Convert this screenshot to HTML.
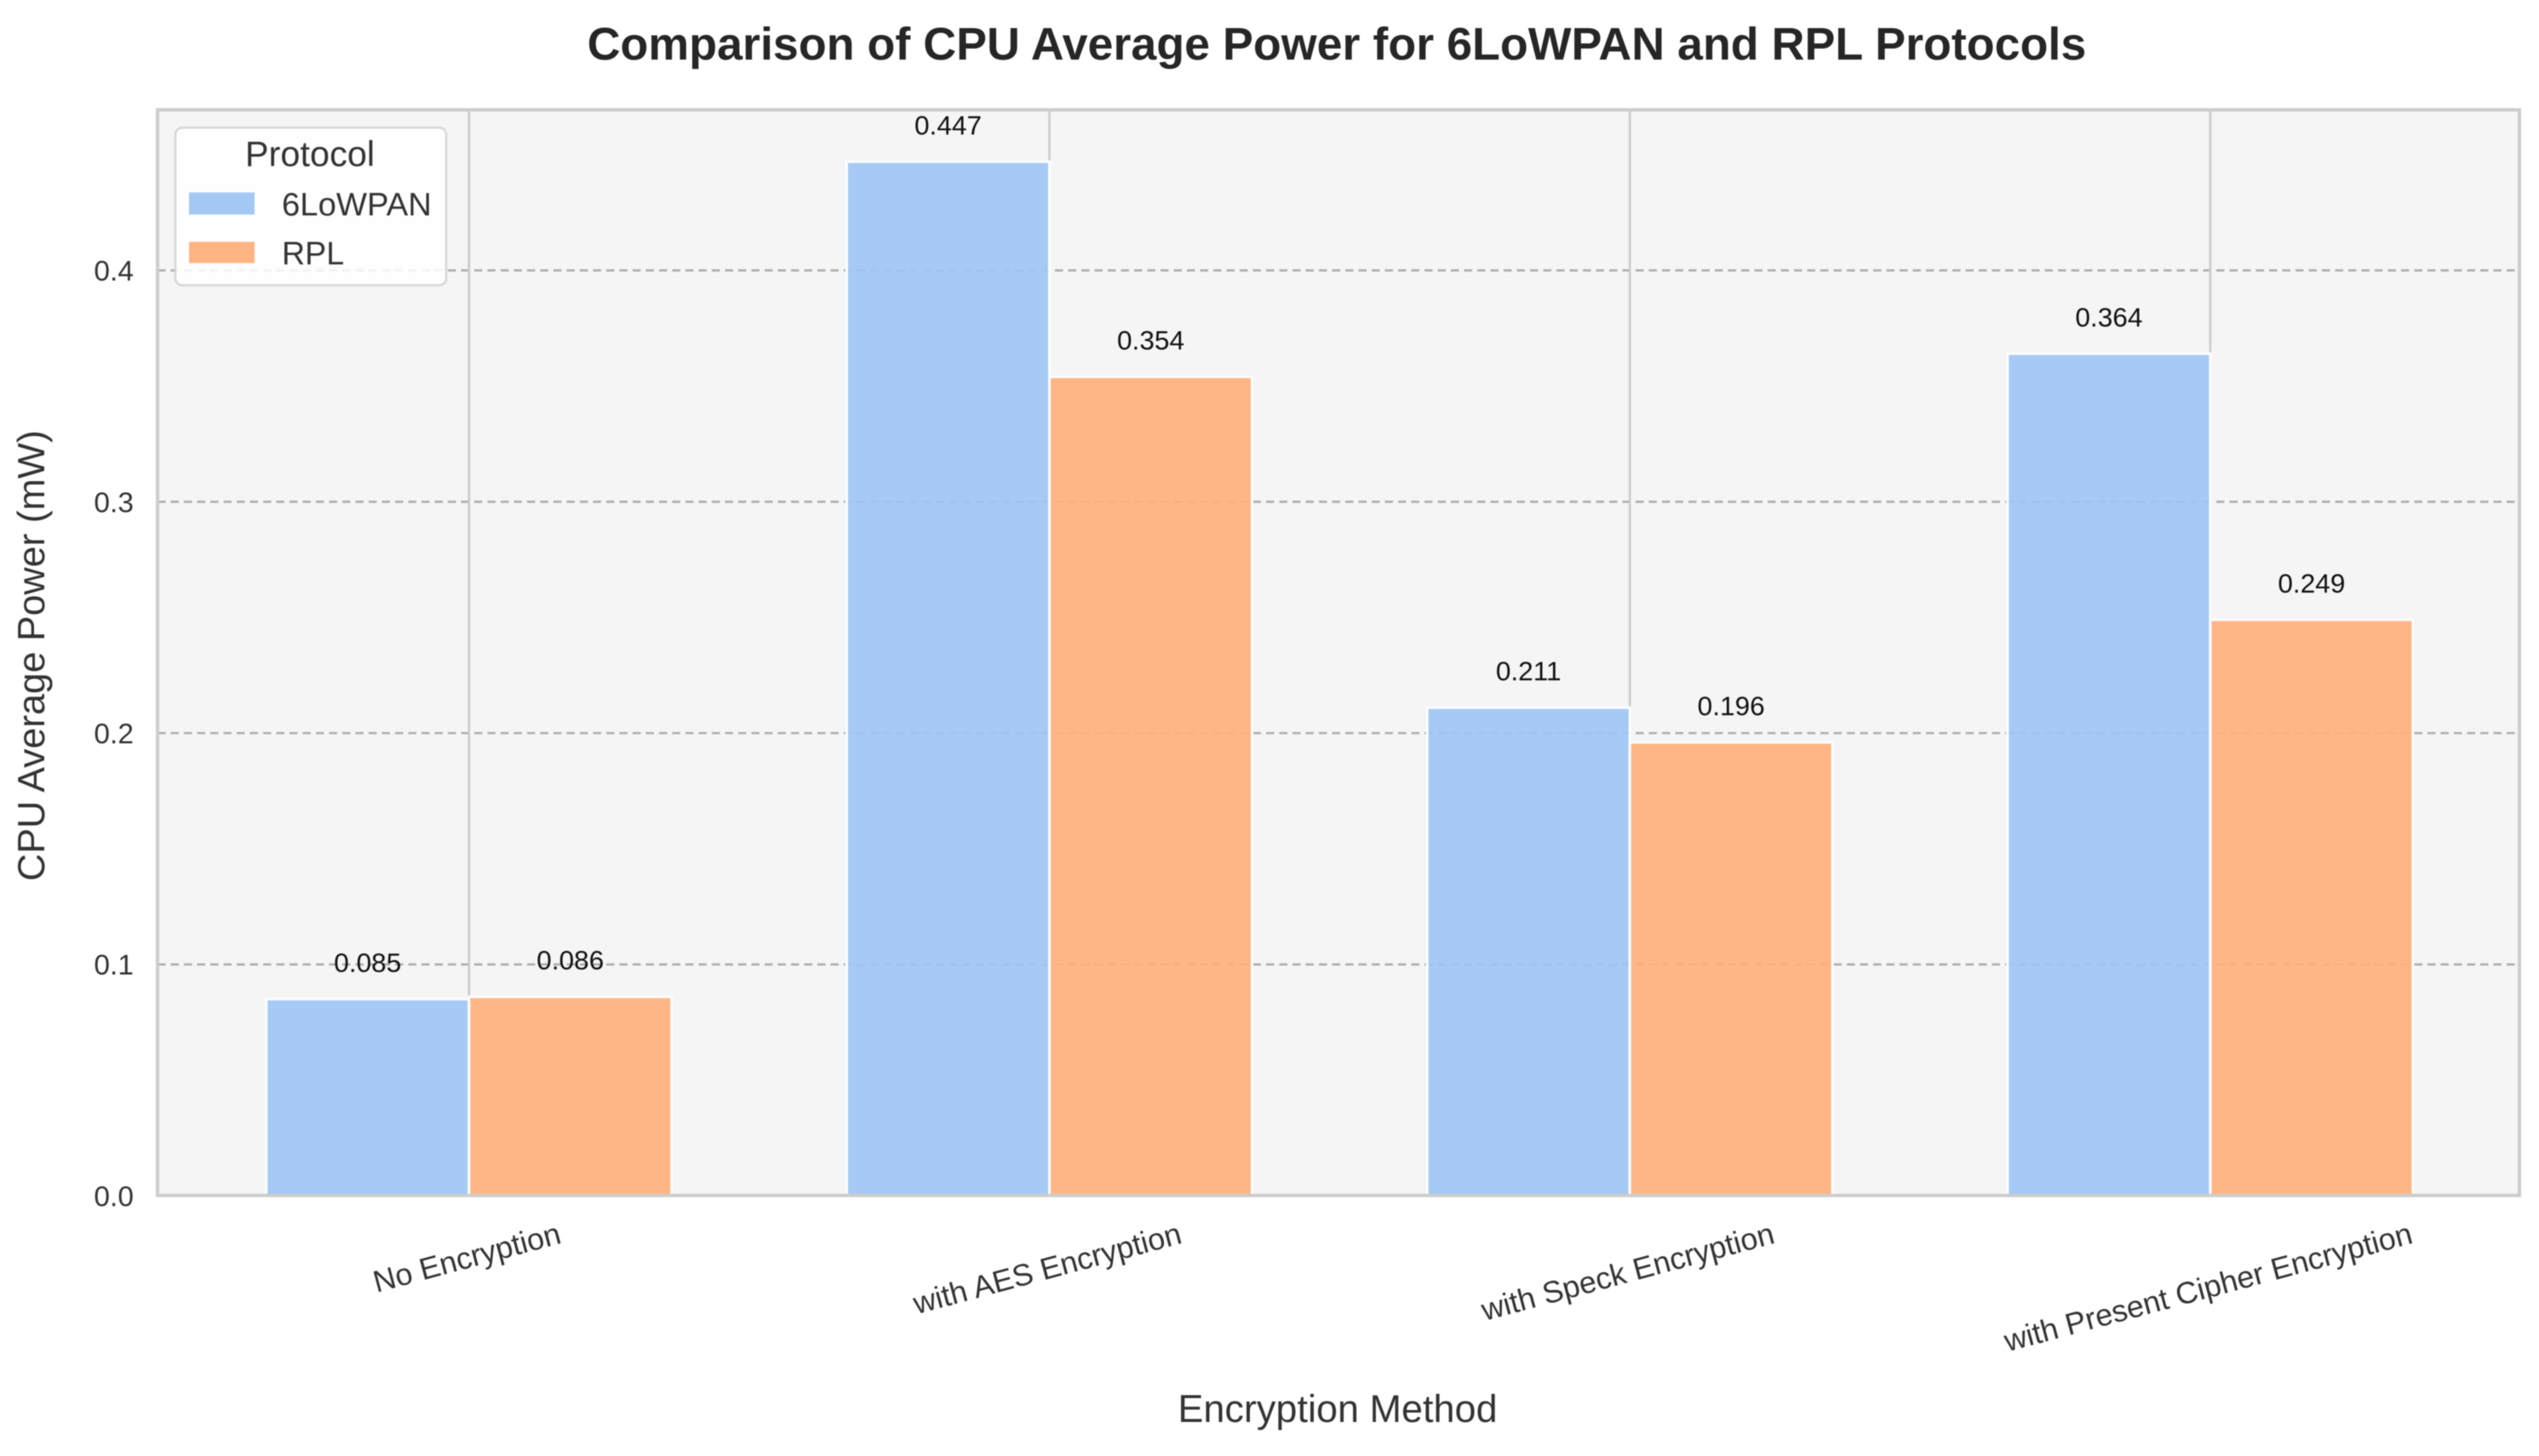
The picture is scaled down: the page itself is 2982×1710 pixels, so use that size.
<!DOCTYPE html>
<html lang="en">
<head>
<meta charset="utf-8">
<title>Comparison of CPU Average Power for 6LoWPAN and RPL Protocols</title>
<style>
html,body{margin:0;padding:0;background:#fff;width:2982px;height:1710px;overflow:hidden}
svg{display:block;font-family:"Liberation Sans",Arial,sans-serif;filter:blur(0.6px)}
</style>
</head>
<body>
<svg id="chart" xmlns="http://www.w3.org/2000/svg" width="2982" height="1710" viewBox="0 0 2982 1710">
  <rect x="0" y="0" width="2982" height="1710" fill="#ffffff"/>
  <rect x="185" y="129" width="2774" height="1275" fill="#f5f5f5"/>
  <g id="grid"></g>
  <g id="bars"></g>
  <g id="values"></g>
  <g fill="none" stroke="#cdcdcd" stroke-width="4">
    <rect x="185" y="129" width="2774" height="1275"/>
  </g>
  <g id="yticks"></g>
  <g id="xticks"></g>
  <text x="1570" y="70" text-anchor="middle" font-size="53.8" font-weight="700" fill="#262626">Comparison of CPU Average Power for 6LoWPAN and RPL Protocols</text>
  <text x="1571" y="1670" text-anchor="middle" font-size="45" fill="#333333">Encryption Method</text>
  <text x="0" y="0" transform="translate(52 770) rotate(-90)" text-anchor="middle" font-size="44.6" fill="#333333">CPU Average Power (mW)</text>
  <g>
    <rect x="206" y="150" width="318" height="185" rx="8" ry="8" fill="#ffffff" fill-opacity="0.85" stroke="#d6d6d6" stroke-width="2.5"/>
    <text x="364" y="195" text-anchor="middle" font-size="41.5" fill="#333333">Protocol</text>
    <rect x="222" y="226" width="77" height="26" fill="#a3c9f3"/>
    <text x="331" y="253" font-size="38.3" fill="#333333">6LoWPAN</text>
    <rect x="222" y="284" width="77" height="25" fill="#ffb484"/>
    <text x="331" y="310.5" font-size="37.6" fill="#333333">RPL</text>
  </g>
</svg>
<script>
const categories = ["No Encryption", "with AES Encryption", "with Speck Encryption", "with Present Cipher Encryption"];
const seriesNames = ["6LoWPAN", "RPL"];
const sixLowpanValues = [0.085, 0.447, 0.211, 0.364];
const rplValues = [0.086, 0.354, 0.196, 0.249];
const yTicks = [0.0, 0.1, 0.2, 0.3, 0.4];

const SVG_NS = "http://www.w3.org/2000/svg";
const plotLeft = 185, plotRight = 2959, plotTop = 129, plotBottom = 1404.4;
const firstCenter = 550.8, categoryStep = 681.7, barWidth = 238;
const unitsPerValue = 2717;
const xLabelAngle = 15, xLabelTop = 1431, xLabelShift = -2.4;

function scaleX(i) { return firstCenter + i * categoryStep; }
function scaleY(v) { return plotBottom - v * unitsPerValue; }
function make(tag, parent) {
  const el = document.createElementNS(SVG_NS, tag);
  document.getElementById(parent).appendChild(el);
  return el;
}
function setAttrs(el, attrs) {
  for (const k in attrs) el.setAttribute(k, attrs[k]);
}

// Horizontal dashed gridlines
yTicks.forEach(function (t) {
  if (t === 0) return;
  const line = make("line", "grid");
  
  
  setAttrs(line, {x1: plotLeft, x2: plotRight, y1: scaleY(t), y2: scaleY(t), stroke: "#adadad", "stroke-width": 2.6, "stroke-dasharray": "9.5 6"});
});

// Vertical gridlines
categories.forEach(function (c, i) {
  const line = make("line", "grid");
  
  
  setAttrs(line, {x1: scaleX(i), x2: scaleX(i), y1: plotTop, y2: plotBottom, stroke: "#cbcbcb", "stroke-width": 2.6});
});

// Bars and value labels
function drawSeries(values, side, color, seriesName) {
  values.forEach(function (v, i) {
    const x = side < 0 ? scaleX(i) - barWidth : scaleX(i);
    const rect = make("rect", "bars");
    
    
    setAttrs(rect, {x: x, y: scaleY(v), width: barWidth, height: plotBottom - scaleY(v), fill: color, "fill-opacity": 0.93, stroke: "#fbfdff", "stroke-width": 3});

    const label = make("text", "values");
    
    
    setAttrs(label, {x: x + barWidth / 2, y: scaleY(v) - 32, "text-anchor": "middle", "font-size": 31.6, fill: "#111111"});
    label.textContent = v.toFixed(3);
  });
}
drawSeries(sixLowpanValues, -1, "#9fc6f3", seriesNames[0]);
drawSeries(rplValues, 1, "#ffb07d", seriesNames[1]);

// Y tick labels
yTicks.forEach(function (t) {
  const label = make("text", "yticks");
  
  
  setAttrs(label, {x: 157, y: scaleY(t) + 12, "text-anchor": "end", "font-size": 33.5, fill: "#333333"});
  label.textContent = t.toFixed(1);
});

// X tick labels, rotated and hung from a common top edge like matplotlib does
categories.forEach(function (c, i) {
  const label = make("text", "xticks");
  
  
  setAttrs(label, {x: 0, y: 12, "text-anchor": "middle", "font-size": 36, fill: "#333333"});
  label.textContent = c;
  const rad = xLabelAngle * Math.PI / 180;
  const rotatedHeight = label.getComputedTextLength() * Math.sin(rad) + 34;
  const cy = xLabelTop + rotatedHeight / 2;
  label.setAttribute("transform", "translate(" + (scaleX(i) + xLabelShift) + " " + cy + ") rotate(-" + xLabelAngle + ")");
});
</script>
</body>
</html>
